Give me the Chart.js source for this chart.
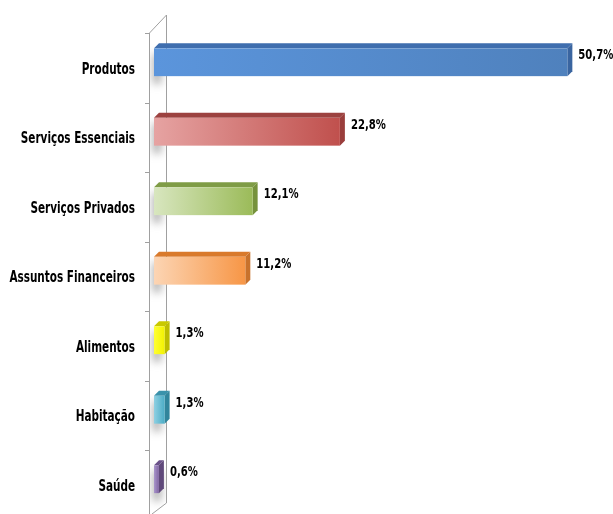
<!DOCTYPE html>
<html>
<head>
<meta charset="utf-8">
<script src="https://cdn.jsdelivr.net/npm/chart.js@4"></script>
<style>
  html, body { margin: 0; padding: 0; background: #fff; overflow: hidden; }
  canvas { display: block; }
</style>
</head>
<body>
<canvas id="myChart" width="613" height="520"></canvas>
<script>
const categories = ['Produtos', 'Serviços Essenciais', 'Serviços Privados', 'Assuntos Financeiros', 'Alimentos', 'Habitação', 'Saúde'];
const values = [50.7, 22.8, 12.1, 11.2, 1.3, 1.3, 0.6];
const valueLabels = ['50,7%', '22,8%', '12,1%', '11,2%', '1,3%', '1,3%', '0,6%'];
const axisMax = 56.3;

// front (light, dark), top, side
const barColors = [
    ['#5b95dc', '#4f81bd', '#3f6eae', '#3a65a0'],
    ['#e6a3a2', '#c0504d', '#9c4240', '#9a3e3c'],
    ['#d8e6bf', '#9bbb59', '#7f9c46', '#76923c'],
    ['#fcd5b4', '#f79646', '#d97a2c', '#c8722c'],
    ['#ffff33', '#f2f200', '#c9c900', '#bdbd00'],
    ['#8fd0e2', '#4bacc6', '#3a92ab', '#31859c'],
    ['#a996cb', '#8064a2', '#6a5189', '#5f497a']
];

const FONT = "'DejaVu Sans Condensed', 'DejaVu Sans', sans-serif";

// the original font is much narrower, so squeeze the text a bit
function squeezedText(ctx, text, x, y, align, k) {
    ctx.save();
    ctx.translate(x, y);
    ctx.scale(k, 1);
    ctx.textAlign = align;
    ctx.fillText(text, 0, 0);
    ctx.restore();
}

// gray wall behind the bars + small ticks + category names
const wallPlugin = {
    id: 'wall',
    beforeDatasetsDraw(chart) {
        const { ctx, chartArea, scales } = chart;
        const yS = scales.y;
        const L = chartArea.left - 5, R = L + 17;
        const top = chartArea.top, bot = chart.height;
        ctx.save();
        ctx.beginPath();
        ctx.moveTo(L, top);
        ctx.lineTo(R, top - 18);
        ctx.lineTo(R, 503);
        ctx.lineTo(L + 3, bot);
        ctx.lineTo(L, bot);
        ctx.closePath();
        ctx.fillStyle = '#ffffff';
        ctx.fill();
        ctx.save();
        ctx.clip();
        const meta = chart.getDatasetMeta(0);
        ctx.filter = 'blur(4px)';
        meta.data.forEach(el => {
            ctx.fillStyle = 'rgba(110,110,110,0.6)';
            ctx.fillRect(L + 4, el.y - 14, 8, 30);
        });
        ctx.filter = 'none';
        ctx.restore();
        ctx.strokeStyle = '#a0a0a0';
        ctx.lineWidth = 1;
        ctx.beginPath();
        ctx.moveTo(L + 0.5, bot);
        ctx.lineTo(L + 0.5, top);
        ctx.lineTo(R + 0.5, top - 18);
        ctx.lineTo(R + 0.5, 503);
        ctx.lineTo(L + 3, 514);
        ctx.stroke();
        // ticks at band edges
        for (let i = 0; i <= categories.length; i++) {
            const yy = Math.round(yS.getPixelForValue(i - 0.5)) + 0.5;
            ctx.beginPath();
            ctx.moveTo(L - 4, yy);
            ctx.lineTo(L, yy);
            ctx.stroke();
        }
        // category labels
        ctx.fillStyle = '#000';
        ctx.font = 'bold 15px ' + FONT;
        ctx.textBaseline = 'middle';
        categories.forEach((c, i) => {
            squeezedText(ctx, c, 135, yS.getPixelForValue(i) + 2, 'right', 0.775);
        });
        ctx.restore();
    }
};

// draws each bar as a small 3D box, from the bar elements the library placed
const box3dPlugin = {
    id: 'box3d',
    afterDatasetsDraw(chart) {
        const { ctx } = chart;
        const meta = chart.getDatasetMeta(0);
        const d = 5;
        ctx.save();
        meta.data.forEach((el, i) => {
            const c = barColors[i];
            const h = el.height;
            const x0 = el.base, x1 = el.x;
            const t = el.y - h / 2 - 5.5;
            // top face
            ctx.beginPath();
            ctx.moveTo(x0, t);
            ctx.lineTo(x0 + d, t - d);
            ctx.lineTo(x1 + d, t - d);
            ctx.lineTo(x1, t);
            ctx.closePath();
            ctx.fillStyle = c[2];
            ctx.fill();
            // side face
            ctx.beginPath();
            ctx.moveTo(x1, t);
            ctx.lineTo(x1 + d, t - d);
            ctx.lineTo(x1 + d, t - d + h);
            ctx.lineTo(x1, t + h);
            ctx.closePath();
            ctx.fillStyle = c[3];
            ctx.fill();
            // front face
            const g = ctx.createLinearGradient(x0, 0, x1, 0);
            g.addColorStop(0, c[0]);
            g.addColorStop(1, c[1]);
            ctx.fillStyle = g;
            ctx.fillRect(x0, t, x1 - x0, h);
            // value label
            ctx.fillStyle = '#000';
            ctx.font = 'bold 14px ' + FONT;
            ctx.textBaseline = 'middle';
            squeezedText(ctx, valueLabels[i], x1 + 11, el.y - 12, 'left', 0.8);
        });
        ctx.restore();
    }
};

document.addEventListener('DOMContentLoaded', () => {
    const ctx = document.getElementById('myChart').getContext('2d');
    new Chart(ctx, {
        type: 'bar',
        data: {
            labels: categories,
            datasets: [{
                data: values,
                backgroundColor: 'rgba(0,0,0,0)',
                borderWidth: 0,
                categoryPercentage: 1,
                barPercentage: 0.4
            }]
        },
        options: {
            indexAxis: 'y',
            responsive: false,
            animation: false,
            layout: { padding: { top: 33, bottom: 0.5, right: 0, left: 0 } },
            plugins: {
                legend: { display: false },
                tooltip: { enabled: false }
            },
            scales: {
                x: { display: false, min: 0, max: axisMax },
                y: {
                    grid: { display: false, drawTicks: false },
                    border: { display: false },
                    ticks: { display: false },
                    afterFit(scale) { scale.width = 154; }
                }
            }
        },
        plugins: [wallPlugin, box3dPlugin]
    });
});
</script>
</body>
</html>
